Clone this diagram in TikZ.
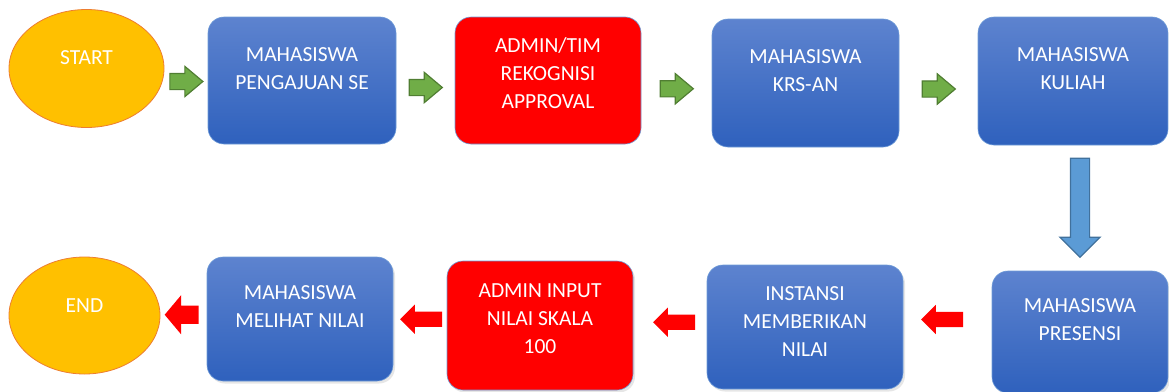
\documentclass[tikz,border=0pt]{standalone}
\usepackage{fontspec}
\setmainfont{Carlito}
\usetikzlibrary{shapes.geometric,shapes.arrows,calc,shadows}

\definecolor{boxtop}{RGB}{93,131,207}
\definecolor{boxbot}{RGB}{47,97,189}
\definecolor{boxline}{RGB}{110,155,215}
\definecolor{termfill}{RGB}{255,192,0}
\definecolor{termline}{RGB}{237,125,49}
\definecolor{grfill}{RGB}{112,173,71}
\definecolor{grline}{RGB}{80,126,50}
\definecolor{dnfill}{RGB}{91,155,213}
\definecolor{dnline}{RGB}{65,113,156}

\tikzset{
    terminal/.style={ellipse, fill=termfill, draw=termline, line width=0.8pt, inner sep=0pt},
    bluebox/.style={rectangle, rounded corners=16pt, top color=boxtop, bottom color=boxbot,
        draw=boxline, line width=0.6pt, inner sep=0pt},
    redbox/.style={rectangle, rounded corners=16pt, fill=red, draw=boxline, line width=0.6pt, inner sep=0pt},
    shadowed/.style={drop shadow={opacity=0.2, shadow xshift=2pt, shadow yshift=-2.5pt}},
    txt/.style={text=white, align=center, font=\fontsize{21.5}{28}\selectfont, inner sep=0pt},
    greenarrow/.style={single arrow, fill=grfill, draw=grline, line width=1.2pt, inner xsep=0pt, inner ysep=7.5pt,
        minimum height=33pt, minimum width=29pt, single arrow head extend=7pt, single arrow tip angle=80},
    redarrow/.style={single arrow, fill=red, inner xsep=0pt, inner ysep=7.5pt, shape border rotate=180,
        minimum height=42pt, minimum width=29pt, single arrow head extend=7pt, single arrow tip angle=90},
    downarrow/.style={single arrow, fill=dnfill, draw=dnline, line width=1.2pt, inner sep=9pt, shape border rotate=270,
        minimum height=99pt, minimum width=39pt, single arrow head extend=10.5pt, single arrow tip angle=90}
}

\begin{document}
\begin{tikzpicture}[x=1pt,y=-1pt]
    \useasboundingbox (0,0) rectangle (1169,391);

    %% top row
    \node[terminal, minimum width=155pt, minimum height=118pt] (start) at (86.5,68.5) {};
    \node[txt] (start-t) at ([yshift=11pt]start.center) {START};
    \node[bluebox, minimum width=188pt, minimum height=127pt] (pengajuan) at (302,80.5) {};
    \node[txt] (pengajuan-t) at ([yshift=12pt]pengajuan.center) {MAHASISWA\\PENGAJUAN SE};
    \node[redbox, minimum width=186pt, minimum height=127pt] (approval) at (548,80.5) {};
    \node[txt] (approval-t) at ([yshift=7pt]approval.center) {ADMIN/TIM\\REKOGNISI\\APPROVAL};
    \node[bluebox, minimum width=187pt, minimum height=128pt] (krs) at (805.5,83) {};
    \node[txt] (krs-t) at ([yshift=12pt]krs.center) {MAHASISWA\\KRS-AN};
    \node[bluebox, minimum width=190pt, minimum height=128pt] (kuliah) at (1073,81) {};
    \node[txt] (kuliah-t) at ([yshift=12pt]kuliah.center) {MAHASISWA\\KULIAH};

    %% bottom row
    \node[bluebox, shadowed, minimum width=176pt, minimum height=122pt] (presensi) at (1080,332) {};
    \node[txt] (presensi-t) at ([yshift=12pt]presensi.center) {MAHASISWA\\PRESENSI};
    \node[bluebox, shadowed, minimum width=196pt, minimum height=124pt] (instansi) at (805,327) {};
    \node[txt] (instansi-t) at ([yshift=5pt]instansi.center) {INSTANSI\\MEMBERIKAN\\NILAI};
    \node[redbox, shadowed, minimum width=186pt, minimum height=129pt] (input) at (540,325.5) {};
    \node[txt] (input-t) at ([yshift=7pt]input.center) {ADMIN INPUT\\NILAI SKALA\\100};
    \node[bluebox, shadowed, minimum width=186pt, minimum height=124pt] (melihat) at (300,319) {};
    \node[txt] (melihat-t) at ([yshift=12pt]melihat.center) {MAHASISWA\\MELIHAT NILAI};
    \node[terminal, minimum width=151pt, minimum height=117pt] (end) at (84.5,315.5) {};
    \node[txt] (end-t) at ([yshift=10pt]end.center) {END};

    %% arrows
    \foreach \a/\b in {start/pengajuan, pengajuan/approval, approval/krs, krs/kuliah}
        \node[greenarrow, xshift=-4.5pt, yshift=-7pt] (go-\a) at ($(\a.east)!0.5!(\b.west)$) {};
    \node[downarrow, xshift=3.5pt, yshift=5pt] (down) at ($(kuliah.south)!0.5!(presensi.north)$) {};
    \node[redarrow, xshift=-1.5pt, yshift=10pt] (back-presensi) at ($(instansi.east)!0.5!(presensi.west)$) {};
    \node[redarrow, xshift=8pt, yshift=4pt] (back-instansi) at ($(input.east)!0.5!(instansi.west)$) {};
    \node[redarrow, xshift=5pt, yshift=3pt] (back-input) at ($(melihat.east)!0.5!(input.west)$) {};
    \node[redarrow, inner ysep=9pt, minimum height=34pt, minimum width=39pt, single arrow head extend=10.5pt,
        single arrow tip angle=100, xshift=2pt, yshift=2.5pt] (back-melihat) at ($(end.east)!0.5!(melihat.west)$) {};
\end{tikzpicture}
\end{document}
